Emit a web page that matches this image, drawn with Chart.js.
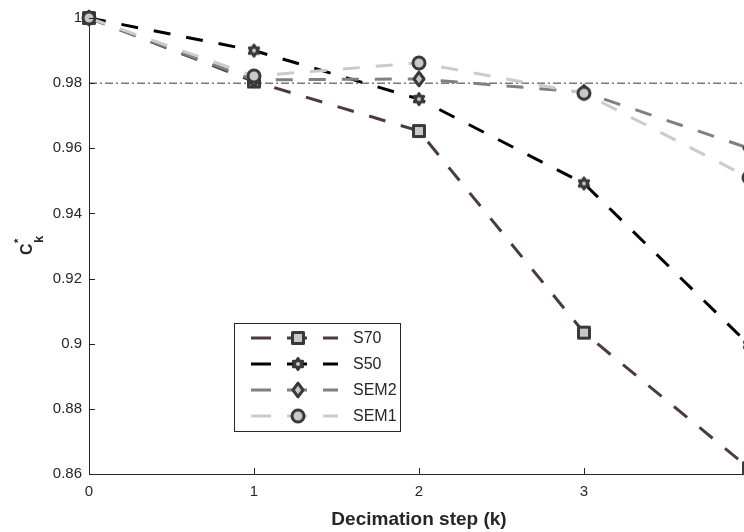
<!DOCTYPE html>
<html>
<head>
<meta charset="utf-8">
<script src="https://cdn.jsdelivr.net/npm/chart.js@4.4.1/dist/chart.umd.min.js"></script>
<style>
  html, body { margin: 0; padding: 0; overflow: hidden; background: #fff; }
  canvas { display: block; }
</style>
</head>
<body>
<canvas id="ckChart" width="800" height="532"></canvas>
<script>
// decimation steps and C*_k values
const steps = [0, 1, 2, 3, 4];
const s70 = [1.0, 0.9805, 0.9653, 0.9034, 0.8618];
const s50 = [1.0, 0.9900, 0.9751, 0.9492, 0.8997];
const sem2 = [1.0, 0.9810, 0.9813, 0.9772, 0.9600];
const sem1 = [1.0, 0.9822, 0.9862, 0.9769, 0.9510];
const threshold = 0.98;
const seriesNames = ['S70', 'S50', 'SEM2', 'SEM1'];

const edgeColor = '#393939';
const fillColor = '#c8c8c8';
const axisColor = '#262626';

// marker images, matlab-ish: dark edge, light grey face
function makeMarker(shape) {
    let c = document.createElement('canvas');
    c.width = 22; c.height = 22;
    let g = c.getContext('2d');
    g.translate(11, 11);
    g.beginPath();
    if (shape === 'circle') {
        g.arc(0, 0, 6, 0, Math.PI * 2);
    } else if (shape === 'square') {
        g.rect(-5.5, -5.5, 11, 11);
    } else if (shape === 'diamond') {
        g.moveTo(0, -6.8); g.lineTo(5, 0); g.lineTo(0, 6.8); g.lineTo(-5, 0);
        g.closePath();
    } else if (shape === 'hexagram') {
        for (let i = 0; i < 12; i++) {
            let r = i % 2 === 0 ? 5.4 : 3.2;
            let a = -Math.PI / 2 + i * Math.PI / 6;
            if (i === 0) g.moveTo(r * Math.cos(a), r * Math.sin(a));
            else g.lineTo(r * Math.cos(a), r * Math.sin(a));
        }
        g.closePath();
    }
    g.fillStyle = fillColor;
    g.fill();
    g.lineWidth = 3;
    g.lineJoin = 'round';
    g.strokeStyle = edgeColor;
    g.stroke();
    return c;
}

const markers = {
    S70: makeMarker('square'),
    S50: makeMarker('hexagram'),
    SEM2: makeMarker('diamond'),
    SEM1: makeMarker('circle')
};
const lineColors = { S70: '#4b3b3b', S50: '#000000', SEM2: '#808080', SEM1: '#cbcbcb' };

function series(name, values) {
    return {
        label: name,
        data: steps.map((s, i) => ({ x: s, y: values[i] })),
        borderColor: lineColors[name],
        borderWidth: 3,
        borderDash: [17, 16],
        pointStyle: markers[name],
        pointRadius: 6,
        clip: false,
        tension: 0
    };
}

// inward tick marks like the original figure
const innerTicks = {
    id: 'innerTicks',
    afterDraw(chart) {
        const c = chart.ctx;
        const xs = chart.scales.x, ys = chart.scales.y;
        c.save();
        c.strokeStyle = axisColor;
        c.lineWidth = 1;
        c.beginPath();
        ys.ticks.forEach(t => {
            let py = Math.round(ys.getPixelForValue(t.value)) + 0.5;
            if (t.value <= ys.min + 1e-9) return;
            c.moveTo(xs.left, py); c.lineTo(xs.left + 6, py);
        });
        xs.ticks.forEach(t => {
            if (t.value <= xs.min) return;
            let px = Math.round(xs.getPixelForValue(t.value)) + 0.5;
            c.moveTo(px, ys.bottom); c.lineTo(px, ys.bottom - 6);
        });
        c.stroke();
        c.restore();
    }
};

// y label C*_k with super/subscript
const yLabel = {
    id: 'yLabel',
    afterDraw(chart) {
        const c = chart.ctx;
        c.save();
        c.translate(32, 255);
        c.rotate(-Math.PI / 2);
        c.fillStyle = axisColor;
        c.textBaseline = 'alphabetic';
        c.font = 'bold 16px "Liberation Sans", Arial, sans-serif';
        c.fillText('C', 0, 0);
        c.font = 'bold 11px "Liberation Sans", Arial, sans-serif';
        c.fillText('*', 12, -10);
        c.font = 'bold 13px "Liberation Sans", Arial, sans-serif';
        c.fillText('k', 12, 11);
        c.restore();
    }
};

// boxed legend inside the axes
const boxLegend = {
    id: 'boxLegend',
    afterDatasetsDraw(chart) {
        const c = chart.ctx;
        c.save();
        c.fillStyle = '#fff';
        c.fillRect(234.5, 323.5, 166, 108);
        c.strokeStyle = axisColor;
        c.lineWidth = 1;
        c.strokeRect(234.5, 323.5, 166, 108);
        const rows = [338, 364, 390, 416];
        seriesNames.forEach((name, i) => {
            let y = rows[i];
            c.strokeStyle = lineColors[name];
            c.lineWidth = 3;
            c.setLineDash([20, 16]);
            c.beginPath();
            c.moveTo(251, y); c.lineTo(338, y);
            c.stroke();
            c.setLineDash([]);
            c.drawImage(markers[name], 298 - 11, y - 11);
            c.fillStyle = axisColor;
            c.font = '16px "Liberation Sans", Arial, sans-serif';
            c.textBaseline = 'middle';
            c.fillText(name, 353, y + 1);
        });
        c.restore();
    }
};

Chart.defaults.font.family = '"Liberation Sans", Arial, Helvetica, sans-serif';
Chart.defaults.font.size = 15;
Chart.defaults.color = axisColor;

var ctxL = document.getElementById('ckChart').getContext('2d');

var ckChart = new Chart(ctxL, {
    type: 'line',
    plugins: [innerTicks, yLabel, boxLegend],
    data: {
        datasets: [
            series('SEM1', sem1),
            series('SEM2', sem2),
            series('S50', s50),
            series('S70', s70),
            {
                label: 'threshold',
                data: [{ x: 0, y: threshold }, { x: 4, y: threshold }],
                borderColor: '#333333',
                borderWidth: 1,
                borderDash: [8, 3, 2, 3],
                pointRadius: 0
            }
        ]
    },
    options: {
        responsive: false,
        animation: false,
        events: [],
        layout: { padding: { top: 18, right: 51, left: 0, bottom: 0 } },
        plugins: {
            legend: { display: false },
            tooltip: { enabled: false }
        },
        scales: {
            x: {
                type: 'linear',
                min: 0,
                max: 4,
                ticks: { stepSize: 1, padding: 9, color: axisColor },
                grid: { display: false, drawTicks: false },
                border: { display: true, color: axisColor, width: 1 },
                title: {
                    display: true,
                    text: 'Decimation step (k)',
                    color: axisColor,
                    font: { size: 19, weight: 'bold' },
                    padding: { top: 0, bottom: 1 }
                },
                afterFit: s => { s.height = 58; }
            },
            y: {
                min: 0.86,
                max: 1.0,
                ticks: {
                    stepSize: 0.02,
                    padding: 7,
                    color: axisColor,
                    callback: v => String(+v.toFixed(2))
                },
                grid: { display: false, drawTicks: false },
                border: { display: true, color: axisColor, width: 1 },
                afterFit: s => { s.width = 89; }
            }
        }
    }
});
</script>
</body>
</html>
